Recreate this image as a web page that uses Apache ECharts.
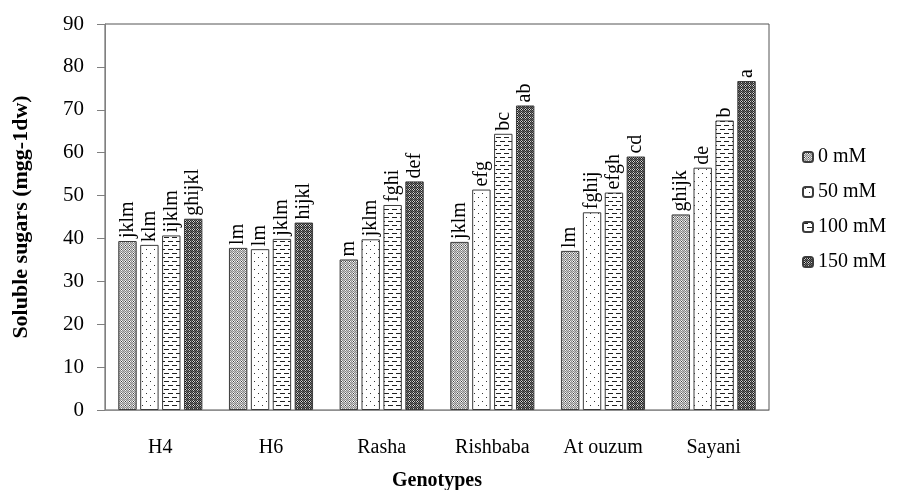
<!DOCTYPE html>
<html>
<head>
<meta charset="utf-8">
<script src="https://cdn.jsdelivr.net/npm/echarts@6/dist/echarts.min.js"></script>
<style>
html,body{margin:0;padding:0;background:#fff;}
#chart{width:898px;height:490px;}
</style>
</head>
<body>
<div id="chart"></div>
<script>
// ---- data ----
var categories = ['H4', 'H6', 'Rasha', 'Rishbaba', 'At ouzum', 'Sayani'];
var seriesNames = ['0 mM', '50 mM', '100 mM', '150 mM'];
var values0 = [39.4, 37.8, 35.1, 39.2, 37.1, 45.6];
var values50 = [38.5, 37.5, 39.8, 51.4, 46.1, 56.5];
var values100 = [40.7, 39.9, 47.8, 64.4, 50.7, 67.5];
var values150 = [44.6, 43.7, 53.3, 71.0, 59.1, 76.7];
var letters0 = ['jklm', 'lm', 'm', 'jklm', 'lm', 'ghijk'];
var letters50 = ['klm', 'lm', 'jklm', 'efg', 'fghij', 'de'];
var letters100 = ['ijklm', 'jklm', 'fghi', 'bc', 'efgh', 'b'];
var letters150 = ['ghijkl', 'hijkl', 'def', 'ab', 'cd', 'a'];
var yTicks = {min: 0, max: 90, interval: 10};

// ---- patterns ----
function makeTile(w, h, draw) {
  var c = document.createElement('canvas');
  c.width = w; c.height = h;
  var ctx = c.getContext('2d');
  draw(ctx);
  return {image: c, repeat: 'repeat'};
}
function px(ctx, grid, cols) {
  for (var y = 0; y < grid.length; y++) {
    for (var x = 0; x < grid[y].length; x++) {
      ctx.fillStyle = cols[grid[y][x]];
      ctx.fillRect(x, y, 1, 1);
    }
  }
}
var checkGrid = [
  [0, 1, 0, 2],
  [1, 3, 1, 0],
  [0, 1, 0, 2],
  [2, 0, 2, 0]
];
var pat0 = makeTile(4, 4, function (ctx) {
  px(ctx, checkGrid, ['#8a8a8a', '#f2f2f2', '#c4c4c4', '#3a3a3a']);
});
var pat150 = makeTile(4, 4, function (ctx) {
  px(ctx, checkGrid, ['#2e2e2e', '#c8c8c8', '#6a6a6a', '#000000']);
});
var pat50 = makeTile(8, 8, function (ctx) {
  ctx.fillStyle = '#ffffff'; ctx.fillRect(0, 0, 8, 8);
  ctx.fillStyle = '#333333';
  ctx.fillRect(2, 1, 1, 1);
  ctx.fillRect(6, 5, 1, 1);
});
var pat100 = makeTile(8, 8, function (ctx) {
  ctx.fillStyle = '#ffffff'; ctx.fillRect(0, 0, 8, 8);
  ctx.fillStyle = '#222222';
  ctx.fillRect(0, 1, 5, 1);
  ctx.fillRect(4, 5, 4, 1);
  ctx.fillRect(0, 5, 1, 1);
});

var serif = '"Liberation Serif", "DejaVu Serif", serif';
var valueSets = [values0, values50, values100, values150];
var letterSets = [letters0, letters50, letters100, letters150];
var pats = [pat0, pat50, pat100, pat150];

var series = seriesNames.map(function (name, i) {
  return {
    name: name,
    type: 'bar',
    data: valueSets[i],
    barGap: '19%',
    barCategoryGap: '24%',
    itemStyle: {color: pats[i], borderColor: '#3c3c3c', borderWidth: 1},
    label: {
      show: true,
      position: 'top',
      rotate: 90,
      align: 'left',
      verticalAlign: 'middle',
      distance: 3,
      fontFamily: serif,
      fontSize: 20,
      color: '#000',
      formatter: function (p) { return letterSets[i][p.dataIndex]; }
    },
    emphasis: {disabled: true}
  };
});

var chart = echarts.init(document.getElementById('chart'), null, {renderer: 'canvas'});
chart.setOption({
  animation: false,
  backgroundColor: '#fff',
  grid: {left: 105, right: 129, top: 24, bottom: 80, show: true, borderColor: '#555', borderWidth: 1,
         containLabel: false, outerBoundsMode: 'none'},
  legend: {
    orient: 'vertical',
    left: 797,
    top: 142,
    itemWidth: 10,
    itemHeight: 10,
    itemGap: 15,
    textStyle: {fontFamily: serif, fontSize: 20, color: '#000'},
    data: seriesNames
  },
  xAxis: {
    type: 'category',
    data: categories,
    axisLine: {lineStyle: {color: '#909090', width: 1}},
    axisTick: {show: false},
    axisLabel: {fontFamily: serif, fontSize: 20, color: '#000', margin: 28},
    name: 'Genotypes',
    nameLocation: 'middle',
    nameGap: 61,
    nameTextStyle: {fontFamily: serif, fontSize: 20, fontWeight: 'bold', color: '#000'}
  },
  yAxis: {
    type: 'value',
    min: yTicks.min,
    max: yTicks.max,
    interval: yTicks.interval,
    axisLine: {show: true, lineStyle: {color: '#808080', width: 1}},
    axisTick: {show: true, length: 8, lineStyle: {color: '#808080'}},
    splitLine: {show: false},
    axisLabel: {fontFamily: serif, fontSize: 21, color: '#000', margin: 21},
    name: 'Soluble sugars (mgg-1dw)',
    nameLocation: 'middle',
    nameGap: 73,
    nameTextStyle: {fontFamily: serif, fontSize: 22, fontWeight: 'bold', color: '#000'}
  },
  series: series
});
</script>
</body>
</html>
